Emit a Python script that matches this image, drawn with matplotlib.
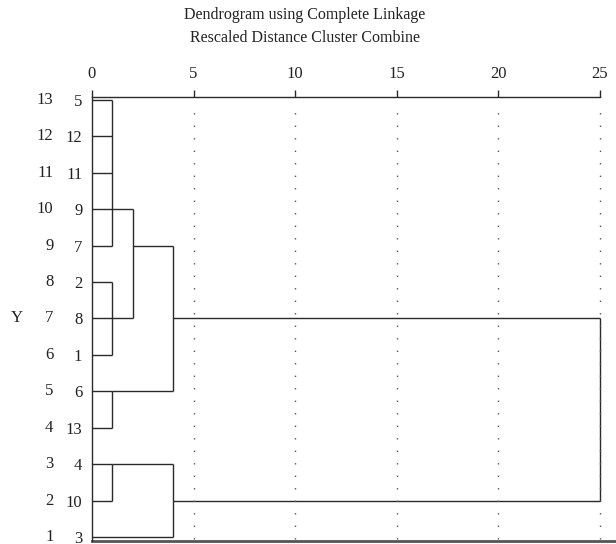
import numpy as np
import matplotlib.pyplot as plt
from matplotlib import transforms

plt.rcParams['font.family'] = ['Liberation Serif', 'DejaVu Serif']

# rows from top to bottom and the case labels shown next to them
row_numbers = [13, 12, 11, 10, 9, 8, 7, 6, 5, 4, 3, 2, 1]
case_labels = ['5', '12', '11', '9', '7', '2', '8', '1', '6', '13', '4', '10', '3']

# merges: rows of the joined clusters, height each child starts from, merge distance
merge_rows = [[13, 12, 11, 10, 9], [8, 7, 6], [5, 4], [3, 2],
              [10, 7], [9, 5], [3, 1], [7, 2]]
child_heights = [[0, 0, 0, 0, 0], [0, 0, 0], [0, 0], [0, 0],
                 [1, 1], [2, 1], [1, 0], [4, 4]]
merge_dist = [1, 1, 1, 1, 2, 4, 4, 25]

xticks = [0, 5, 10, 15, 20, 25]

fig = plt.figure(figsize=(6.16, 5.44), dpi=100)
ax = fig.add_axes([92 / 616, 3 / 544, 508 / 616, 444 / 544])

lc = '#2a2a2a'
tc = '#222222'
fs = 12
lw = 1.0
for rows, hs, d in zip(merge_rows, child_heights, merge_dist):
    for r, h in zip(rows, hs):
        ax.plot([h, d], [r, r], color=lc, lw=lw, solid_capstyle='butt',
                clip_on=False)
    ax.plot([d, d], [min(rows), max(rows)], color=lc, lw=lw,
            solid_capstyle='butt', clip_on=False)

ylo, yhi = 0.89, 13.08
ax.vlines(xticks[1:], ylo + 0.05, yhi - 0.2, colors='#555555',
          linestyles=(0, (1, 8)), lw=1.0, clip_on=False)

ax.set_xlim(0, 25)
ax.set_ylim(ylo, yhi)

ax.xaxis.tick_top()
ax.set_xticks(xticks)
ax.set_xticklabels([str(t) for t in xticks])
ax.tick_params(axis='x', direction='out', length=5, width=1, color=lc,
               labelsize=fs, pad=6, labelcolor=tc)

ax.set_yticks(row_numbers)
ax.set_yticklabels(case_labels)
ax.tick_params(axis='y', length=0, labelsize=fs, pad=7, labelcolor=tc)

trans = transforms.blended_transform_factory(ax.transAxes, ax.transData)
for r in row_numbers:
    ax.text(-0.076, r, str(r), transform=trans, ha='right', va='center',
            fontsize=fs, color=tc)
ax.text(-0.148, 7, 'Y', transform=trans, ha='center', va='center',
        fontsize=fs, color=tc)

ax.spines['right'].set_visible(False)
for s in ['top', 'left']:
    ax.spines[s].set_color(lc)
    ax.spines[s].set_linewidth(1.0)
ax.spines['bottom'].set_visible(False)
ax.plot([0, 1.032], [0, 0], transform=ax.transAxes, color='#555555', lw=2,
        clip_on=False)

fig.text(0.495, 0.973, 'Dendrogram using Complete Linkage', ha='center',
         va='center', fontsize=11.5, color=tc)
fig.text(0.495, 0.931, 'Rescaled Distance Cluster Combine', ha='center',
         va='center', fontsize=11.5, color=tc)

fig.savefig('out.png', dpi=100)
